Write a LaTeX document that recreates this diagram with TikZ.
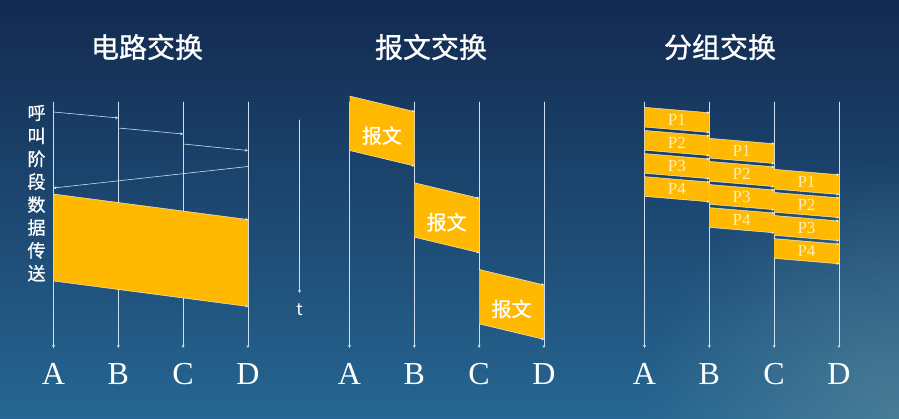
\documentclass[tikz,border=0pt]{standalone}
\usepackage{fontspec}
\setmainfont{Liberation Serif}
\newfontfamily\cjk{Noto Sans CJK SC}
\newfontfamily\cjkm[FakeBold=1]{Noto Sans CJK SC}
\usetikzlibrary{arrows.meta,fadings}
\tikzfading[name=glow, inner color=transparent!0, outer color=transparent!100]
\definecolor{bgtop}{RGB}{19,42,80}
\definecolor{bgbot}{RGB}{38,102,146}
\definecolor{bglight}{RGB}{95,140,155}
\definecolor{gold}{RGB}{255,185,0}
\definecolor{wirec}{RGB}{205,222,240}
\definecolor{pcream}{RGB}{255,238,185}
\tikzset{
  wire/.style={draw=wirec, line width=0.6pt, -{Stealth[length=3pt,width=3pt]}},
  rim/.style={draw=white, draw opacity=0.85, line width=0.45pt, -{Stealth[length=2.5pt,width=2.5pt]}},
  title/.style={text=white, font=\cjkm\fontsize{28}{30}\selectfont},
  station/.style={text=white, anchor=base, font=\fontsize{32}{34}\selectfont},
  msg/.style={text=white, font=\cjkm\fontsize{20}{22}\selectfont},
  pkt/.style={text=pcream, font=\fontsize{17}{18}\selectfont},
  phase/.style={text=white, font=\cjkm\fontsize{18}{20}\selectfont},
}
\begin{document}
\begin{tikzpicture}[x=1pt,y=-1pt,line join=round,line cap=round]
\useasboundingbox (0,0) rectangle (899,418);
\clip (0,0) rectangle (899,418);
\shade[top color=bgtop,bottom color=bgbot] (0,0) rectangle (899,418);
\fill[bglight,opacity=0.6,path fading=glow] (899,418) circle (260);
% titles
\node[title] (ttl1) at (147,47) {电路交换};
\node[title] (ttl2) at (431,47) {报文交换};
\node[title] (ttl3) at (720,47) {分组交换};
% stations A--D with their time lines
\foreach \g/\x in {l/53.5,m/349.5,r/644.5}
  \foreach \n [count=\i from 0] in {A,B,C,D}{
    \path
    ({\x+64.8*\i},102) coordinate (\g\n-top)
    ({\x+64.8*\i},348) coordinate (\g\n-bot)
    ({\x+64.8*\i},384) node[station] (\g\n) {\n}
    ;
    \draw[wire] (\g\n-top) -- (\g\n-bot);
  }
% circuit switching
\path
(53.5,112) coordinate (c1) (118.3,118) coordinate (c2)
(118.3,128) coordinate (c3) (183.1,134) coordinate (c4)
(183.1,144) coordinate (c5) (247.9,150.5) coordinate (c6)
(247.9,166.5) coordinate (c7) (53.5,188) coordinate (c8)
(53.5,194) coordinate (d1) (247.9,219.5) coordinate (d2)
(247.9,306.5) coordinate (d3) (53.5,281) coordinate (d4)
;
\foreach \p/\q in {c1/c2,c3/c4,c5/c6,c7/c8}
  \draw[wire] (\p) -- (\q);
\fill[gold] (d1) -- (d2) -- (d3) -- (d4) -- cycle;
\draw[rim] (d1) -- (d2);
\draw[rim] (d4) -- (d3);
\foreach \c [count=\k from 0] in {呼,叫,阶,段,数,据,传,送}
  \node[phase] (ph\k) at (36.5,{113+22.9*\k}) {\c};
% time axis
\path (299.5,120) coordinate (t0) (299.5,293) coordinate (t1);
\draw[wire] (t0) -- (t1);
\node[text=white,font=\cjk\fontsize{17}{18}\selectfont] (tl) at (299.5,310) {t};
% message switching
\foreach \i in {0,1,2}{
  \path ({349.5+64.8*\i},{96+86.7*\i}) coordinate (m\i a)
    ++(64.8,15.5) coordinate (m\i b)
    ++(0,54.5) coordinate (m\i c)
    ++(-64.8,-15.5) coordinate (m\i d);
  \fill[gold] (m\i a) -- (m\i b) -- (m\i c) -- (m\i d) -- cycle;
  \draw[rim] (m\i a) -- (m\i b);
  \draw[rim] (m\i d) -- (m\i c);
  \node[msg] (msg\i) at ({381.9+64.8*\i},{135.5+86.7*\i}) {报文};
}
% packet switching
\foreach \j in {0,1,2}
  \foreach \i in {1,...,4}{
    \path ({644.5+64.8*\j},{107.3+31*\j+23.1*(\i-1)}) coordinate (p\j\i a)
      ++(64.8,5.4) coordinate (p\j\i b)
      ++(0,19.8) coordinate (p\j\i c)
      ++(-64.8,-5.4) coordinate (p\j\i d);
    \fill[gold] (p\j\i a) -- (p\j\i b) -- (p\j\i c) -- (p\j\i d) -- cycle;
    \draw[rim] (p\j\i a) -- (p\j\i b);
    \draw[rim] (p\j\i d) -- (p\j\i c);
    \node[pkt] (pk\j\i) at ({676.9+64.8*\j},{120+31*\j+23.1*(\i-1)}) {P\i};
  }
\end{tikzpicture}
\end{document}
